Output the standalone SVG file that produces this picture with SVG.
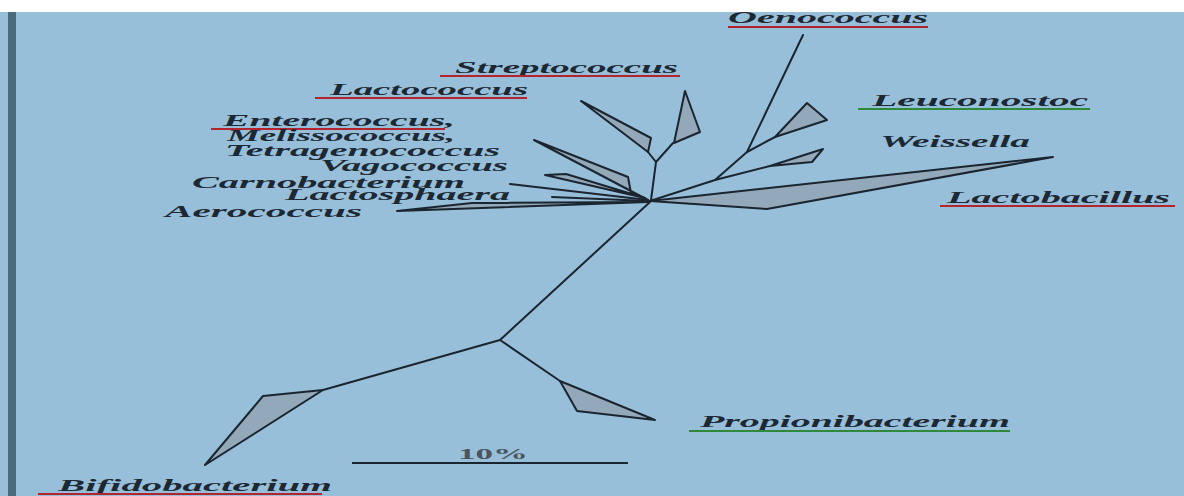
<svg xmlns="http://www.w3.org/2000/svg" width="1184" height="496" viewBox="0 0 1184 496">
<style>
.lbl{font-family:"Liberation Serif","Times New Roman",serif;font-weight:bold;font-style:italic;font-size:16px;fill:#1c2834;}
.br{fill:none;stroke:#1b2530;stroke-width:2;stroke-linejoin:round;stroke-linecap:round;}
.wg{fill:#93a8b8;stroke:#1b2530;stroke-width:2;stroke-linejoin:round;}
.ur{stroke:#b3242c;stroke-width:2;}
.ug{stroke:#2e8a3a;stroke-width:2;}
</style>
<rect x="0" y="0" width="1184" height="496" fill="#ffffff"/>
<rect x="0" y="12" width="1184" height="484" fill="#97bfd9"/>
<rect x="8" y="12" width="8" height="484" fill="#4d697c"/>

<g id="connectors">
  <polyline class="br" points="650,201 715,180 747,152 803,35"/>
  <line class="br" x1="715" y1="180" x2="770" y2="166"/>
  <line class="br" x1="747" y1="152" x2="775" y2="137"/>
  <polyline class="br" points="651,200 656,162 673,143"/>
  <line class="br" x1="656" y1="162" x2="648" y2="152"/>
  <line class="br" x1="650" y1="202" x2="500" y2="340"/>
  <line class="br" x1="500" y1="340" x2="323" y2="390"/>
  <line class="br" x1="500" y1="340" x2="560" y2="381"/>
  <line class="br" x1="510" y1="184" x2="648" y2="200"/>
  <line class="br" x1="552" y1="197" x2="648" y2="201"/>
</g>

<g id="oenococcus">
  <text class="lbl" x="728" y="23" textLength="200" lengthAdjust="spacingAndGlyphs">Oenococcus</text>
  <line class="ur" x1="728" y1="27" x2="928" y2="27"/>
</g>
<g id="streptococcus">
  <polygon class="wg" points="685,91 700,132 674,143"/>
  <text class="lbl" x="455" y="73" textLength="223" lengthAdjust="spacingAndGlyphs">Streptococcus</text>
  <line class="ur" x1="440" y1="76" x2="680" y2="76"/>
</g>
<g id="lactococcus">
  <polygon class="wg" points="581,101 651,138 648,152"/>
  <text class="lbl" x="330" y="95" textLength="198" lengthAdjust="spacingAndGlyphs">Lactococcus</text>
  <line class="ur" x1="315" y1="98" x2="527" y2="98"/>
</g>
<g id="enterococcus">
  <polygon class="wg" points="534,140 628,177 631,193 648,200"/>
  <text class="lbl" x="223" y="126" textLength="232" lengthAdjust="spacingAndGlyphs">Enterococcus,</text>
  <line class="ur" x1="211" y1="129" x2="445" y2="129"/>
</g>
<g id="melissococcus">
  <text class="lbl" x="227" y="141" textLength="228" lengthAdjust="spacingAndGlyphs">Melissococcus,</text>
</g>
<g id="tetragenococcus">
  <text class="lbl" x="225" y="156" textLength="275" lengthAdjust="spacingAndGlyphs">Tetragenococcus</text>
</g>
<g id="vagococcus">
  <polygon class="wg" points="545,175 566,174 645,198"/>
  <text class="lbl" x="320" y="171" textLength="188" lengthAdjust="spacingAndGlyphs">Vagococcus</text>
</g>
<g id="carnobacterium">
  <text class="lbl" x="192" y="188" textLength="273" lengthAdjust="spacingAndGlyphs">Carnobacterium</text>
</g>
<g id="lactosphaera">
  <text class="lbl" x="285" y="200" textLength="225" lengthAdjust="spacingAndGlyphs">Lactosphaera</text>
</g>
<g id="aerococcus">
  <polygon class="wg" points="397,211 472,203 648,202"/>
  <text class="lbl" x="165" y="217" textLength="197" lengthAdjust="spacingAndGlyphs">Aerococcus</text>
</g>
<g id="leuconostoc">
  <polygon class="wg" points="807,103 827,120 775,137"/>
  <text class="lbl" x="872" y="106" textLength="216" lengthAdjust="spacingAndGlyphs">Leuconostoc</text>
  <line class="ug" x1="858" y1="109" x2="1090" y2="109"/>
</g>
<g id="weissella">
  <polygon class="wg" points="823,149 812,162 770,166"/>
  <text class="lbl" x="880" y="147" textLength="150" lengthAdjust="spacingAndGlyphs">Weissella</text>
</g>
<g id="lactobacillus">
  <polygon class="wg" points="650,201 1053,157 767,209"/>
  <text class="lbl" x="947" y="203" textLength="223" lengthAdjust="spacingAndGlyphs">Lactobacillus</text>
  <line class="ur" x1="940" y1="206" x2="1175" y2="206"/>
</g>
<g id="propionibacterium">
  <polygon class="wg" points="560,381 577,411 655,420"/>
  <text class="lbl" x="700" y="427" textLength="310" lengthAdjust="spacingAndGlyphs">Propionibacterium</text>
  <line class="ug" x1="689" y1="431" x2="1010" y2="431"/>
</g>
<g id="bifidobacterium">
  <polygon class="wg" points="323,390 263,396 205,465"/>
  <text class="lbl" x="58" y="491" textLength="274" lengthAdjust="spacingAndGlyphs">Bifidobacterium</text>
  <line class="ur" x1="38" y1="494" x2="322" y2="494"/>
</g>
<g id="scale">
  <line x1="352" y1="463" x2="628" y2="463" stroke="#1b2530" stroke-width="2"/>
  <text x="458" y="459" textLength="70" lengthAdjust="spacingAndGlyphs" style="font-family:'Liberation Serif',serif;font-weight:bold;font-size:15px;fill:#4a5560;">10%</text>
</g>
</svg>
